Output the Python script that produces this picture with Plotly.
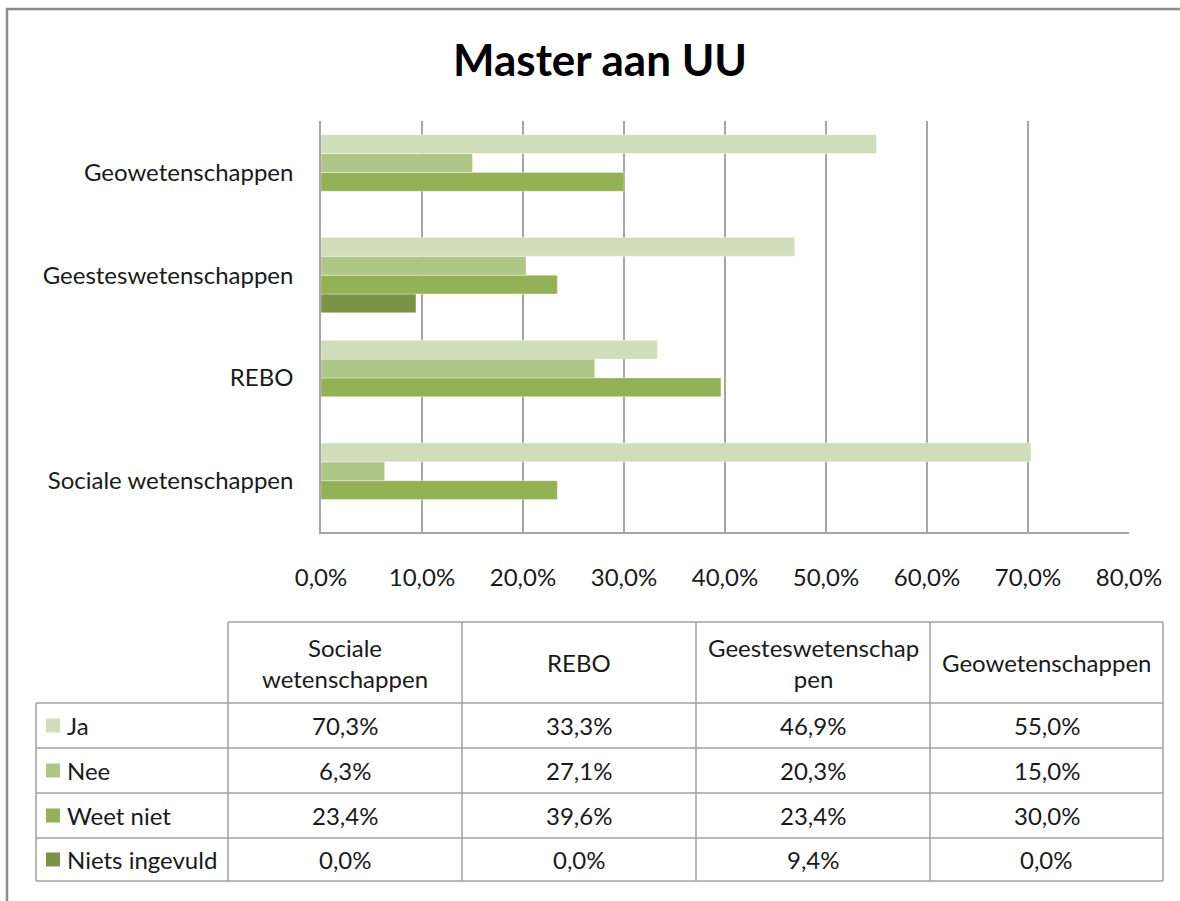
import plotly.graph_objects as go

# ---------------- data ----------------
title_text = "Master aan UU"
categories = ["Sociale wetenschappen", "REBO", "Geesteswetenschappen", "Geowetenschappen"]
header_labels = ["Sociale<br>wetenschappen", "REBO", "Geesteswetenschap<br>pen", "Geowetenschappen"]
series_names = ["Ja", "Nee", "Weet niet", "Niets ingevuld"]
ja = [70.3, 33.3, 46.9, 55.0]
nee = [6.3, 27.1, 20.3, 15.0]
weet_niet = [23.4, 39.6, 23.4, 30.0]
niets_ingevuld = [0.0, 0.0, 9.4, 0.0]
x_tick_values = [0, 10, 20, 30, 40, 50, 60, 70, 80]

series_values = [ja, nee, weet_niet, niets_ingevuld]
colors = ["#CFDDB9", "#AFC786", "#93B155", "#7A9443"]

W, H = 1180, 901
FONT = "Lato, 'DejaVu Sans', sans-serif"
TXT = "#1a1a1a"
GRID = "#a6a6a6"


def px(x):
    return x / W


def py(y):
    return 1 - y / H


def fmt(v):
    return f"{v:.1f}%".replace(".", ",")


fig = go.Figure()
# reverse order so that "Ja" sits at the top of each group
for name, vals, col in reversed(list(zip(series_names, series_values, colors))):
    fig.add_trace(go.Bar(
        y=categories, x=vals, name=name, orientation="h",
        marker=dict(color=col, line=dict(width=0.6, color="rgba(255,255,255,0.6)")),
        showlegend=False,
    ))

fig.update_layout(
    width=W, height=H,
    margin=dict(l=0, r=0, t=0, b=0, autoexpand=False),
    paper_bgcolor="white", plot_bgcolor="white",
    barmode="group", bargap=0.268, bargroupgap=0,
    font=dict(family=FONT, size=24, color=TXT),
    title=dict(text=f"<b>{title_text}</b>", x=px(600), xanchor="center",
               y=py(61), yanchor="middle",
               font=dict(family=FONT, size=44, color="black")),
    xaxis=dict(domain=[px(321), px(1129)], range=[0, 80], tickvals=x_tick_values,
               ticktext=[fmt(v) for v in x_tick_values],
               showgrid=True, gridcolor=GRID, automargin=False,
               gridwidth=1.5, showline=True, linecolor=GRID, linewidth=1.5,
               ticks="", zeroline=False, ticklabelstandoff=23,
               tickfont=dict(size=24, color=TXT), fixedrange=True),
    yaxis=dict(domain=[py(532), py(121)], type="category", range=[-0.5, 3.5],
               showline=True, linecolor=GRID, linewidth=1.5, ticks="",
               showgrid=False, ticklabelstandoff=21, automargin=False,
               tickfont=dict(size=24, color=TXT), fixedrange=True),
)

shapes = []
annotations = []

# outer chart frame (cut at right and bottom like the reference)
shapes.append(dict(type="rect", xref="paper", yref="paper",
                   x0=px(7), x1=px(W + 20), y0=py(H + 20), y1=py(9),
                   line=dict(color="#8c8c8c", width=2.5), fillcolor="rgba(0,0,0,0)"))

# ---------------- data table ----------------
col_edges = [36, 228, 462, 696, 930, 1163]
row_edges = [622, 703, 748, 793, 838, 881]
LINE = dict(color="#a0a0a0", width=1.5)

# horizontal lines
shapes.append(dict(type="line", xref="paper", yref="paper",
                   x0=px(col_edges[1]), x1=px(col_edges[-1]),
                   y0=py(row_edges[0]), y1=py(row_edges[0]), line=LINE))
for ry in row_edges[1:]:
    shapes.append(dict(type="line", xref="paper", yref="paper",
                       x0=px(col_edges[0]), x1=px(col_edges[-1]),
                       y0=py(ry), y1=py(ry), line=LINE))
# vertical lines
shapes.append(dict(type="line", xref="paper", yref="paper",
                   x0=px(col_edges[0]), x1=px(col_edges[0]),
                   y0=py(row_edges[1]), y1=py(row_edges[-1]), line=LINE))
for cx in col_edges[1:]:
    shapes.append(dict(type="line", xref="paper", yref="paper",
                       x0=px(cx), x1=px(cx),
                       y0=py(row_edges[0]), y1=py(row_edges[-1]), line=LINE))

# header texts
for j, lab in enumerate(header_labels):
    cx = (col_edges[j + 1] + col_edges[j + 2]) / 2
    cy = (row_edges[0] + row_edges[1]) / 2
    annotations.append(dict(xref="paper", yref="paper", x=px(cx), y=py(cy),
                            text=lab, showarrow=False, xanchor="center",
                            yanchor="middle", align="center",
                            font=dict(size=24, color=TXT, family=FONT)))

# rows: legend key + values
for i, (name, vals, col) in enumerate(zip(series_names, series_values, colors)):
    y0, y1 = row_edges[i + 1], row_edges[i + 2]
    cy = (y0 + y1) / 2
    shapes.append(dict(type="rect", xref="paper", yref="paper",
                       x0=px(46), x1=px(60), y0=py(cy + 7), y1=py(cy - 7),
                       fillcolor=col, line=dict(width=0)))
    annotations.append(dict(xref="paper", yref="paper", x=px(65), y=py(cy),
                            text=name, showarrow=False, xanchor="left",
                            yanchor="middle",
                            font=dict(size=24, color=TXT, family=FONT)))
    for j, v in enumerate(vals):
        cx = (col_edges[j + 1] + col_edges[j + 2]) / 2
        annotations.append(dict(xref="paper", yref="paper", x=px(cx), y=py(cy),
                                text=fmt(v), showarrow=False, xanchor="center",
                                yanchor="middle",
                                font=dict(size=24, color=TXT, family=FONT)))

fig.update_layout(shapes=shapes, annotations=annotations)
fig.write_html(
    "out.html",
    config={"displayModeBar": False},
    post_script="document.body.style.margin='0';document.body.style.overflow='hidden';",
)
